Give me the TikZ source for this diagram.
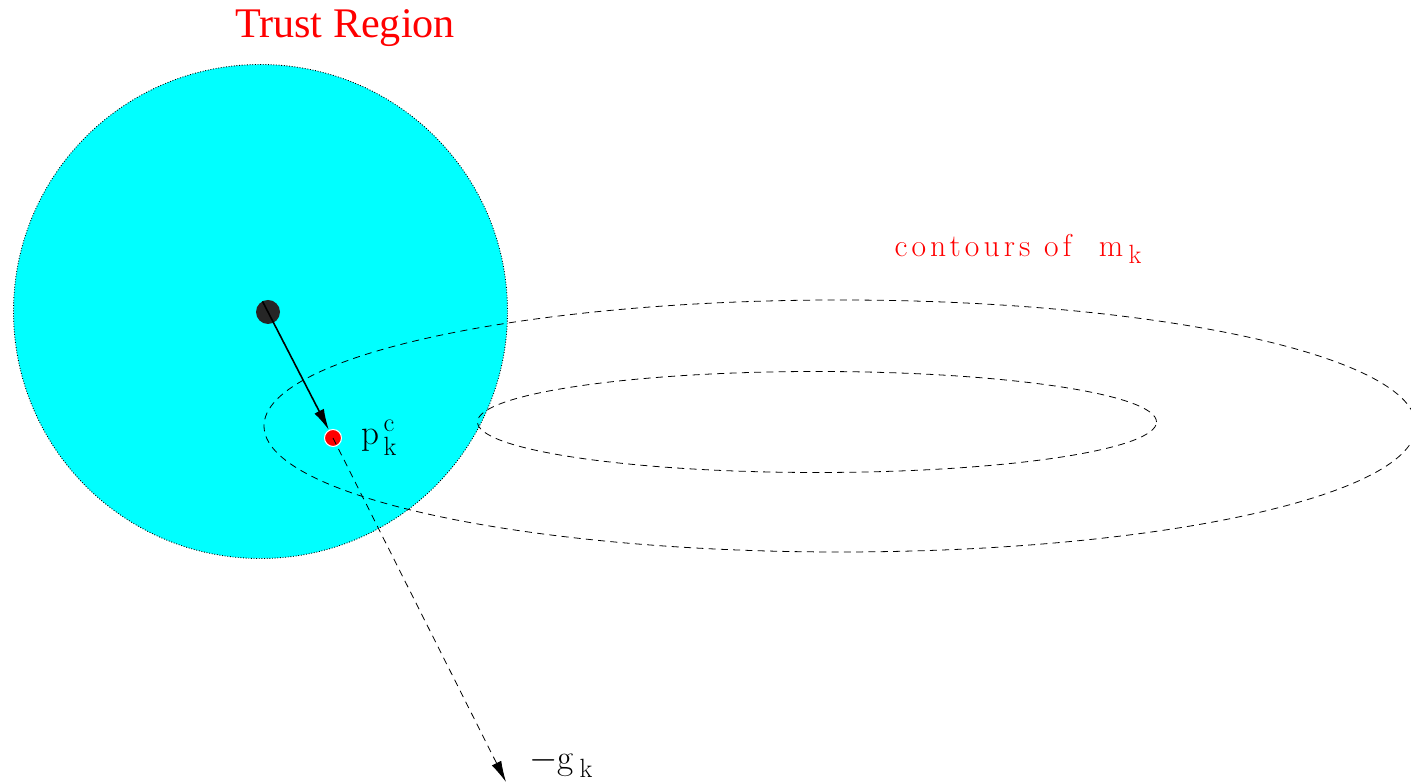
\documentclass[tikz,border=0pt]{standalone}
\usepackage{fontspec}
\usepackage{amsmath}
\newfontfamily\titlefont{Liberation Serif}
\newfontfamily\spacedfont{Latin Modern Roman}[LetterSpace=13]
\usetikzlibrary{positioning, calc, arrows.meta}

% index letters, nearly full size
\newcommand{\lowidx}[1]{\,\raisebox{-0.55ex}{\fontsize{15}{18}\selectfont #1}}
\newcommand{\bigidx}[1]{\text{\spacedfont\fontsize{15}{18}\selectfont #1}}

\begin{document}
\begin{tikzpicture}[
  >={Latex[length=12pt,width=6pt]},
  dot/.style={circle, inner sep=0pt},
  lbl/.style={inner sep=0pt, font=\spacedfont\fontsize{20}{24}\selectfont},
]
\definecolor{cTrust}{HTML}{00FFFF}   % cyan fill of the region
\definecolor{cLabel}{HTML}{FF0000}   % red text / Cauchy point

\useasboundingbox (0,0) rectangle (28.22,15.68);

% =====================================================================
% Trust region disc
% =====================================================================
\pgfmathsetmacro{\rad}{4.94}
\coordinate (c0) at (5.21,9.45);
\fill[cTrust] (c0) circle (\rad);
\draw[black, densely dotted, line width=0.5pt] (c0) circle (\rad);

\node[font=\titlefont\fontsize{24}{28}\selectfont, text=cLabel]
  (title) at (6.9,15.12) {Trust Region};

% =====================================================================
% Contours of the model (two dashed ellipses)
% =====================================================================
\draw[dashed, dash pattern=on 4pt off 3pt, line width=0.45pt]
  (16.8,7.16) ellipse (11.52 and 2.52);
\draw[dashed, dash pattern=on 4pt off 3pt, line width=0.45pt]
  (16.34,7.24) ellipse (6.79 and 1.01);

\node[inner sep=0pt, text=cLabel, font=\spacedfont\fontsize{18}{22}\selectfont]
  (cont) at (20.36,10.70) {contours of\ \ m\lowidx{k}};

% =====================================================================
% Current iterate, Cauchy point, steepest descent direction
% =====================================================================
\node[dot, fill=black!85, minimum size=0.48cm] (xk) at (5.36,9.44) {};
\node[dot, fill=cLabel, draw=white, line width=0.6pt, minimum size=0.34cm]
  (pc) at (6.66,6.92) {};
\coordinate (gend) at (10.12,0.04);

\draw[->, line width=0.9pt, shorten <=-0.24cm] (xk.center) -- (pc);
\draw[->, dashed, dash pattern=on 4pt off 3pt, line width=0.45pt]
  (pc.center) -- (gend);

\node[lbl, anchor=west] (pclbl) at (7.22,6.92)
  {$\text{p}^{\,\bigidx{c}}_{\,\bigidx{k}}$};
\node[lbl, anchor=west] (glbl) at (10.58,0.42)
  {$-$g\lowidx{k}};

\end{tikzpicture}
\end{document}
